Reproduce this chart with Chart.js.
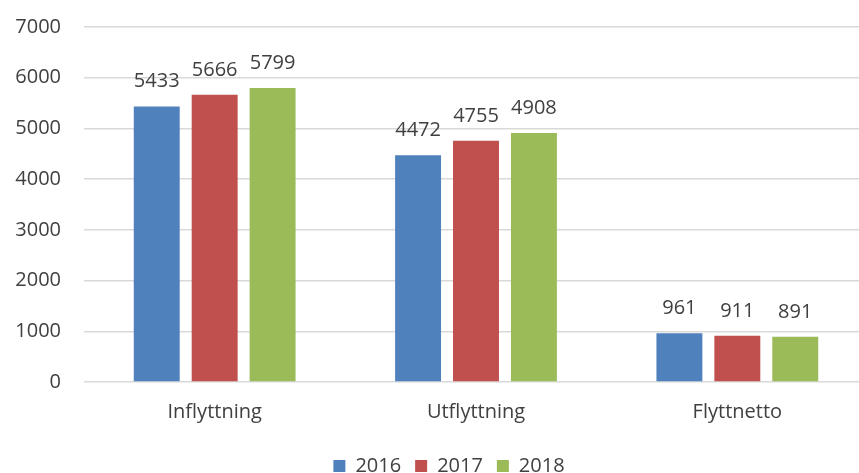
<!DOCTYPE html>
<html>
<head>
<meta charset="utf-8">
<script src="https://cdn.jsdelivr.net/npm/chart.js@4/dist/chart.umd.min.js"></script>
<style>
  html, body { margin: 0; padding: 0; background: #fff; overflow: hidden; }
  #wrap { position: relative; width: 859px; height: 473px; overflow: hidden; }
</style>
</head>
<body>
<div id="wrap"><canvas id="c" width="898" height="486"></canvas></div>
<script>
const categories = ["Inflyttning", "Utflyttning", "Flyttnetto"];
const seriesNames = ["2016", "2017", "2018"];
const values2016 = [5433, 4472, 961];
const values2017 = [5666, 4755, 911];
const values2018 = [5799, 4908, 891];
const colors = ["#4f81bd", "#c0504d", "#9bbb59"];
const yTicksMax = 7000;
const yStep = 1000;

const FONT = "'Open Sans', 'DejaVu Sans', sans-serif";
const TXT = "#404040";

const valueLabels = {
  id: 'valueLabels',
  afterDatasetsDraw(chart) {
    const ctx = chart.ctx;
    ctx.save();
    ctx.font = "20px " + FONT;
    ctx.fillStyle = TXT;
    ctx.textAlign = 'center';
    ctx.textBaseline = 'alphabetic';
    chart.data.datasets.forEach((ds, i) => {
      const meta = chart.getDatasetMeta(i);
      meta.data.forEach((bar, j) => {
        ctx.fillText(String(ds.data[j]), bar.x, bar.y - 19);
      });
    });
    ctx.restore();
  }
};

const legendShift = {
  id: 'legendShift',
  afterLayout(chart) {
    if (chart.legend) {
      chart.legend.left += 15;
      chart.legend.right += 15;
    }
  }
};

const seriesValues = [values2016, values2017, values2018];

new Chart(document.getElementById('c'), {
  type: 'bar',
  data: {
    labels: categories,
    datasets: seriesNames.map((n, i) => ({
      label: n,
      data: seriesValues[i],
      backgroundColor: colors[i],
      borderWidth: 0,
      categoryPercentage: 0.665,
      barPercentage: 0.793
    }))
  },
  options: {
    responsive: false,
    animation: false,
    devicePixelRatio: 1,
    layout: { padding: { top: 0, right: 30, left: 0, bottom: 0 } },
    plugins: {
      legend: {
        position: 'bottom',
        labels: {
          boxWidth: 12,
          boxHeight: 12,
          padding: 14,
          color: TXT,
          font: { family: FONT, size: 20 }
        }
      },
      tooltip: { enabled: false }
    },
    scales: {
      x: {
        grid: { display: false, drawTicks: false },
        border: { display: false },
        ticks: { color: TXT, font: { family: FONT, size: 20 }, padding: 18 }
      },
      y: {
        min: 0,
        max: yTicksMax,
        afterFit(scale) {
          scale.width = 84;
          scale.paddingTop = 27;
          scale.paddingBottom = 0;
        },
        grid: { color: '#d9d9d9', lineWidth: 1.5, drawTicks: false },
        border: { display: false },
        ticks: {
          stepSize: yStep, color: TXT, font: { family: FONT, size: 20 }, padding: 23,
          callback: (v) => String(v)
        }
      }
    }
  },
  plugins: [valueLabels, legendShift]
});
</script>
</body>
</html>
